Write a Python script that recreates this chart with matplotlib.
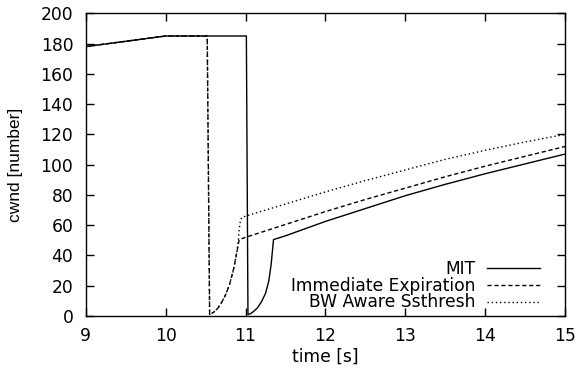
import matplotlib
matplotlib.use('Agg')
import matplotlib.pyplot as plt

# horizontal text in the reference is wide, so DejaVu for it; ylabel in Liberation
plt.rcParams['font.family'] = ['DejaVu Sans']

# ---------- DATA ----------
mit_t = [9, 10, 11.01, 11.03, 11.06, 11.10, 11.15, 11.20, 11.25, 11.29,
         11.32, 11.35, 11.5, 12.0, 12.5, 13.0, 13.5, 14.0, 14.5, 15]
mit_cwnd = [178, 185, 185, 1, 1.5, 3, 5.5, 9.5, 15, 23,
            34, 50.5, 53, 62.5, 71, 79.5, 87, 94, 100.5, 107]

imm_t = [9, 10, 10.52, 10.55, 10.60, 10.65, 10.70, 10.75, 10.80, 10.85,
         10.89, 10.92, 11.0, 11.5, 12.0, 12.5, 13.0, 13.5, 14.0, 14.5, 15]
imm_cwnd = [178, 185, 185, 1, 2.5, 5, 9, 14, 21, 31,
            42, 50.5, 52, 60.5, 69, 77, 84.5, 92, 99, 105.5, 112]

bw_t = [9, 10, 10.52, 10.55, 10.60, 10.65, 10.70, 10.75, 10.80, 10.85,
        10.89, 10.91, 10.92, 10.935, 10.95, 11.0, 11.5, 12.0, 12.5, 13.0,
        13.5, 14.0, 14.5, 15]
bw_cwnd = [178, 185, 185, 1, 2.5, 5, 9, 14, 21, 31,
           42, 50, 57, 63, 65, 66, 74, 82, 89.5, 96.5,
           103.5, 109.5, 115, 120]

labels = ["MIT", "Immediate Expiration", "BW Aware Ssthresh"]

# ---------- PLOT ----------
fig = plt.figure(figsize=(5.76, 3.74), dpi=100)
ax = fig.add_axes([0.149, 0.155, 0.832, 0.8095])

ax.plot(mit_t, mit_cwnd, color='black', lw=1.0, ls='-', label=labels[0])
ax.plot(imm_t, imm_cwnd, color='black', lw=1.0, ls=(0, (3, 2)), label=labels[1])
ax.plot(bw_t, bw_cwnd, color='black', lw=1.0, ls=(0, (1, 2)), label=labels[2])

ax.set_xlim(9, 15)
ax.set_ylim(0, 200)
ax.set_xticks(range(9, 16))
ax.set_yticks(range(0, 201, 20))
ax.tick_params(direction='in', length=6, width=1, top=True, right=True,
               labelsize=12.3)
ax.tick_params(axis='x', pad=8)
ax.tick_params(axis='y', pad=9)
for s in ax.spines.values():
    s.set_linewidth(1.0)

ax.set_xlabel("time [s]", fontsize=12.3)
ax.set_ylabel("cwnd [number]", fontsize=12.5, family=['Liberation Sans', 'DejaVu Sans'])
ax.xaxis.set_label_coords(0.5, -0.105)
ax.yaxis.set_label_coords(-0.131, 0.5)

ax.legend(loc='lower right', bbox_to_anchor=(0.948, 0.015), frameon=False,
          markerfirst=False, fontsize=12.3, handlelength=3.1, handletextpad=0.7,
          labelspacing=-0.08, borderpad=0, borderaxespad=0)

fig.savefig("out.png", dpi=100)
plt.close(fig)
